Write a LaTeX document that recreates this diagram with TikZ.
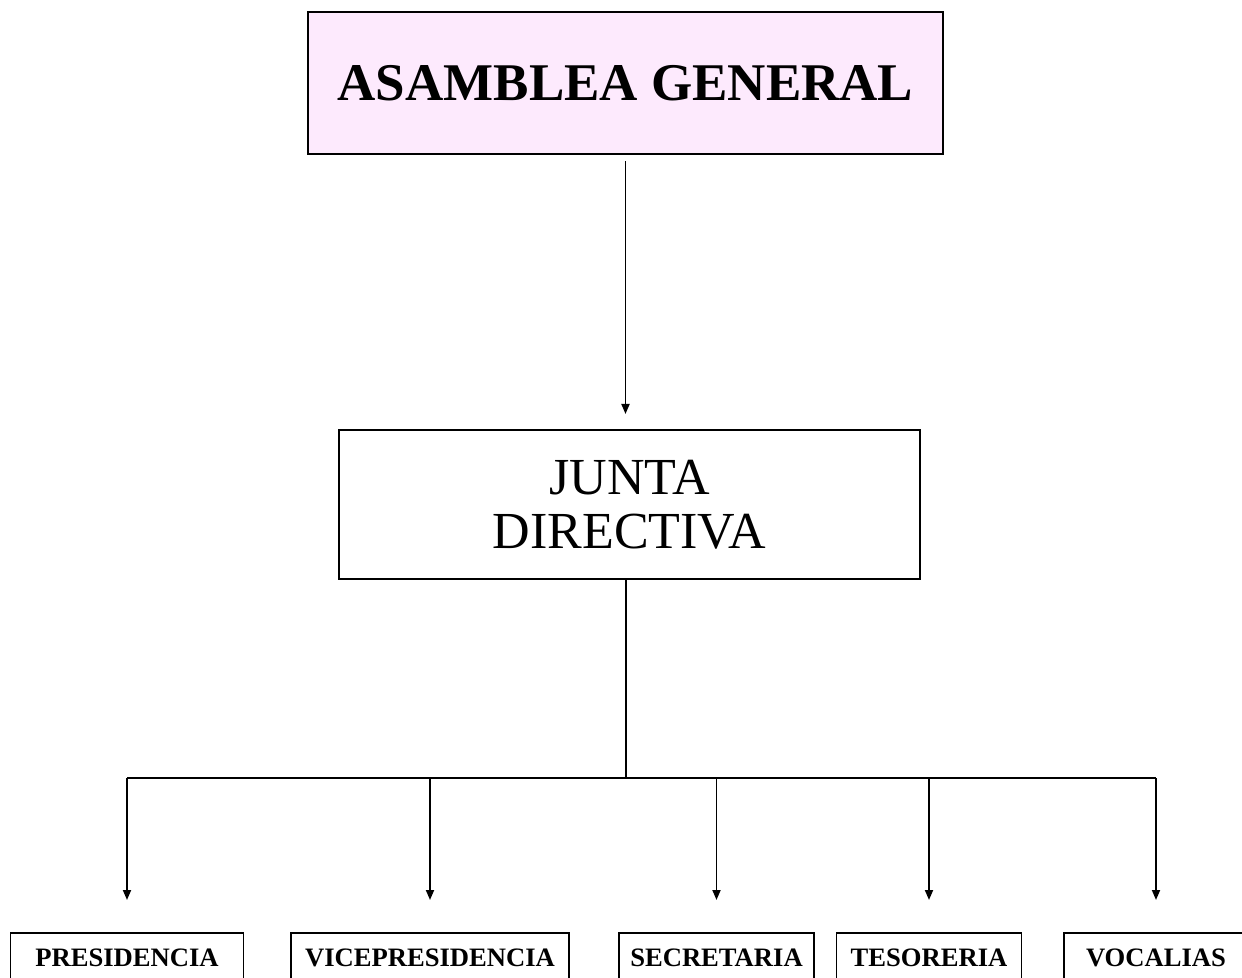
\documentclass[tikz,border=0pt]{standalone}
\usepackage{fontspec}
\setmainfont{Liberation Serif}
\usetikzlibrary{arrows.meta}
\definecolor{asambleapink}{RGB}{253,234,253}
\tikzset{
  topbox/.style={draw, line width=1.2pt, fill=asambleapink, minimum width=317.5pt, minimum height=71pt, font=\fontsize{26.5}{27}\selectfont\bfseries},
  juntabox/.style={draw, line width=1pt, minimum width=290.5pt, minimum height=74.5pt, align=center, font=\fontsize{26}{27}\selectfont},
  cargobox/.style={draw, line width=0.9pt, anchor=north, minimum height=24.5pt, font=\fontsize{13.3}{16}\selectfont\bfseries},
  flecha/.style={line width=0.9pt, -{Triangle[length=5pt,width=4pt]}},
  linea/.style={line width=0.9pt}
}

\begin{document}
\begin{tikzpicture}[x=0.5pt,y=-0.5pt]
	%%%%% START %%%%%
	\useasboundingbox (0,0) rectangle (1242,978);
	
	\node[topbox] (asamblea) at (625.5,83) {ASAMBLEA GENERAL};
	\node[juntabox] (junta) at (629.5,504.5) {JUNTA\\DIRECTIVA};
	
	\node[cargobox, minimum width=116.5pt] (presidencia) at (127,932) {PRESIDENCIA};
	\node[cargobox, minimum width=139pt] (vicepresidencia) at (430,932) {VICEPRESIDENCIA};
	\node[cargobox, minimum width=97.5pt] (secretaria) at (716.5,932) {SECRETARIA};
	\node[cargobox, minimum width=92.5pt] (tesoreria) at (929,932) {TESORERIA};
	\node[cargobox, minimum width=92pt] (vocalias) at (1156,932) {VOCALIAS};
	
	\coordinate (bus) at (626,778);
	
	\draw[flecha, shorten <=3pt, shorten >=7.5pt] (asamblea.south) -- (asamblea.south |- junta.north);
	\draw[linea] (junta.south -| bus) -- (bus);
	\draw[linea] (presidencia |- bus) -- (vocalias |- bus);
	
	\foreach \cargo in {presidencia,vicepresidencia,secretaria,tesoreria,vocalias}
		\draw[flecha, shorten >=16pt] (\cargo |- bus) -- (\cargo.north);
	
	%%%%% END %%%%%
\end{tikzpicture}
\end{document}
